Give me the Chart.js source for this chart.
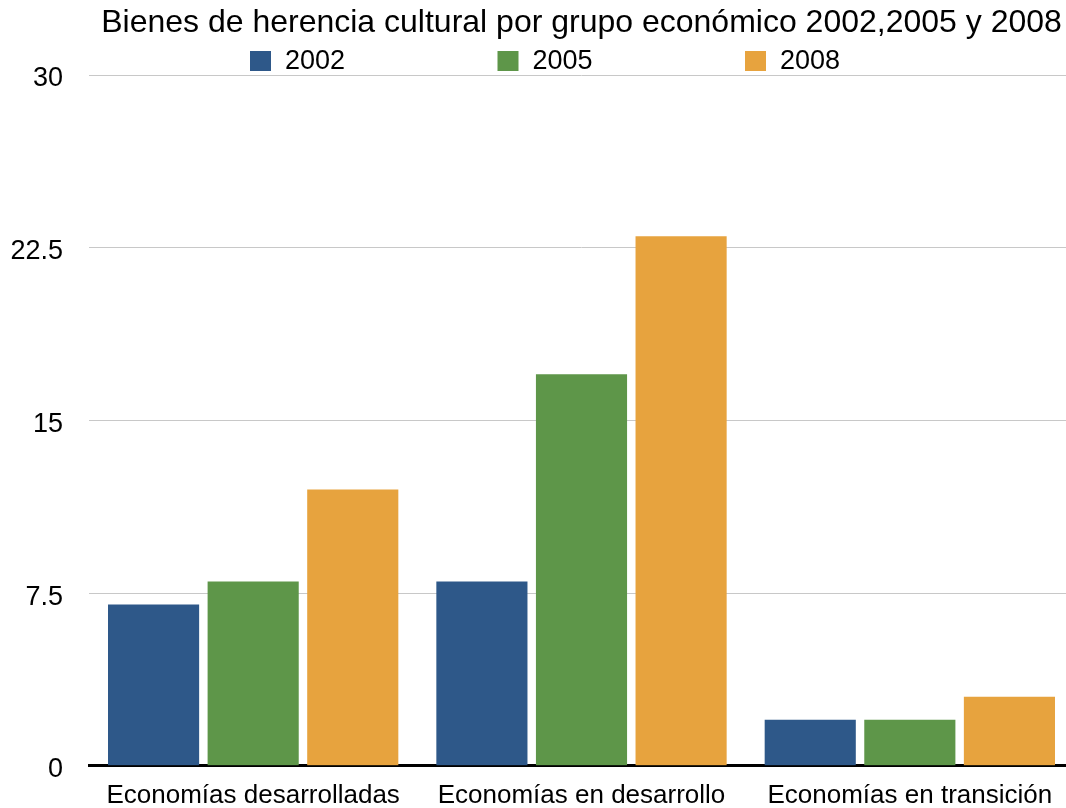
<!DOCTYPE html>
<html>
<head>
<meta charset="utf-8">
<script src="https://cdn.jsdelivr.net/npm/chart.js@4/dist/chart.umd.min.js"></script>
<style>
  html, body { margin: 0; padding: 0; background: #fff; overflow: hidden; }
  #wrap { width: 1076px; height: 808px; }
</style>
</head>
<body>
<div id="wrap"><canvas id="myChart"></canvas></div>
<script>
// Data
const categories = ['Economías desarrolladas', 'Economías en desarrollo', 'Economías en transición'];
const years = ['2002', '2005', '2008'];
const values2002 = [7, 8, 2];
const values2005 = [8, 17, 2];
const values2008 = [12, 23, 3];
const yTicks = [0, 7.5, 15, 22.5, 30];
const colors = ['#2e5889', '#5e9649', '#e7a33e'];
const titleText = 'Bienes de herencia cultural por grupo económico 2002,2005 y 2008';

const FONT = '"Liberation Sans", Arial, Helvetica, sans-serif';

// Title and wide-spaced legend drawn in the top padding
const headerPlugin = {
    id: 'header',
    afterDraw(chart) {
        const ctx = chart.ctx;
        const area = chart.chartArea;
        ctx.save();
        ctx.fillStyle = '#000';
        ctx.font = '32px ' + FONT;
        ctx.textAlign = 'center';
        ctx.textBaseline = 'middle';
        ctx.fillText(titleText, (area.left + area.right) / 2, 23);

        ctx.font = '27px ' + FONT;
        ctx.textAlign = 'left';
        chart.data.datasets.forEach((ds, i) => {
            const x = 250 + i * 247.5;
            ctx.fillStyle = ds.backgroundColor;
            ctx.fillRect(x, 51, 21, 20);
            ctx.fillStyle = '#000';
            ctx.fillText(ds.label, x + 35, 62);
        });
        ctx.restore();
    }
};

const data = {
    labels: categories,
    datasets: [
        { label: years[0], data: values2002, backgroundColor: colors[0] },
        { label: years[1], data: values2005, backgroundColor: colors[1] },
        { label: years[2], data: values2008, backgroundColor: colors[2] }
    ]
};

const ctx = document.getElementById('myChart').getContext('2d');
const myChart = new Chart(ctx, {
    type: 'bar',
    data: data,
    plugins: [headerPlugin],
    options: {
        responsive: true,
        maintainAspectRatio: false,
        animation: false,
        layout: { padding: { top: 75, left: 8, right: 2, bottom: 0 } },
        datasets: {
            bar: { categoryPercentage: 0.91, barPercentage: 0.915 }
        },
        plugins: {
            legend: { display: false },
            title: { display: false },
            tooltip: { enabled: false }
        },
        scales: {
            x: {
                afterFit(scale) { scale.height = 42; },
                grid: { display: false },
                border: { display: true, color: '#000', width: 3 },
                ticks: { color: '#000', font: { family: FONT, size: 26 }, padding: 6, maxRotation: 0 }
            },
            y: {
                min: 0,
                max: 30,
                afterBuildTicks(scale) {
                    scale.ticks = yTicks.map(v => ({ value: v }));
                },
                afterFit(scale) { scale.width = 81; },
                grid: { color: '#c8c8c8', lineWidth: 1, drawTicks: false },
                border: { display: false },
                ticks: { color: '#000', font: { family: FONT, size: 27 }, padding: 26, labelOffset: 4 }
            }
        }
    }
});
</script>
</body>
</html>
